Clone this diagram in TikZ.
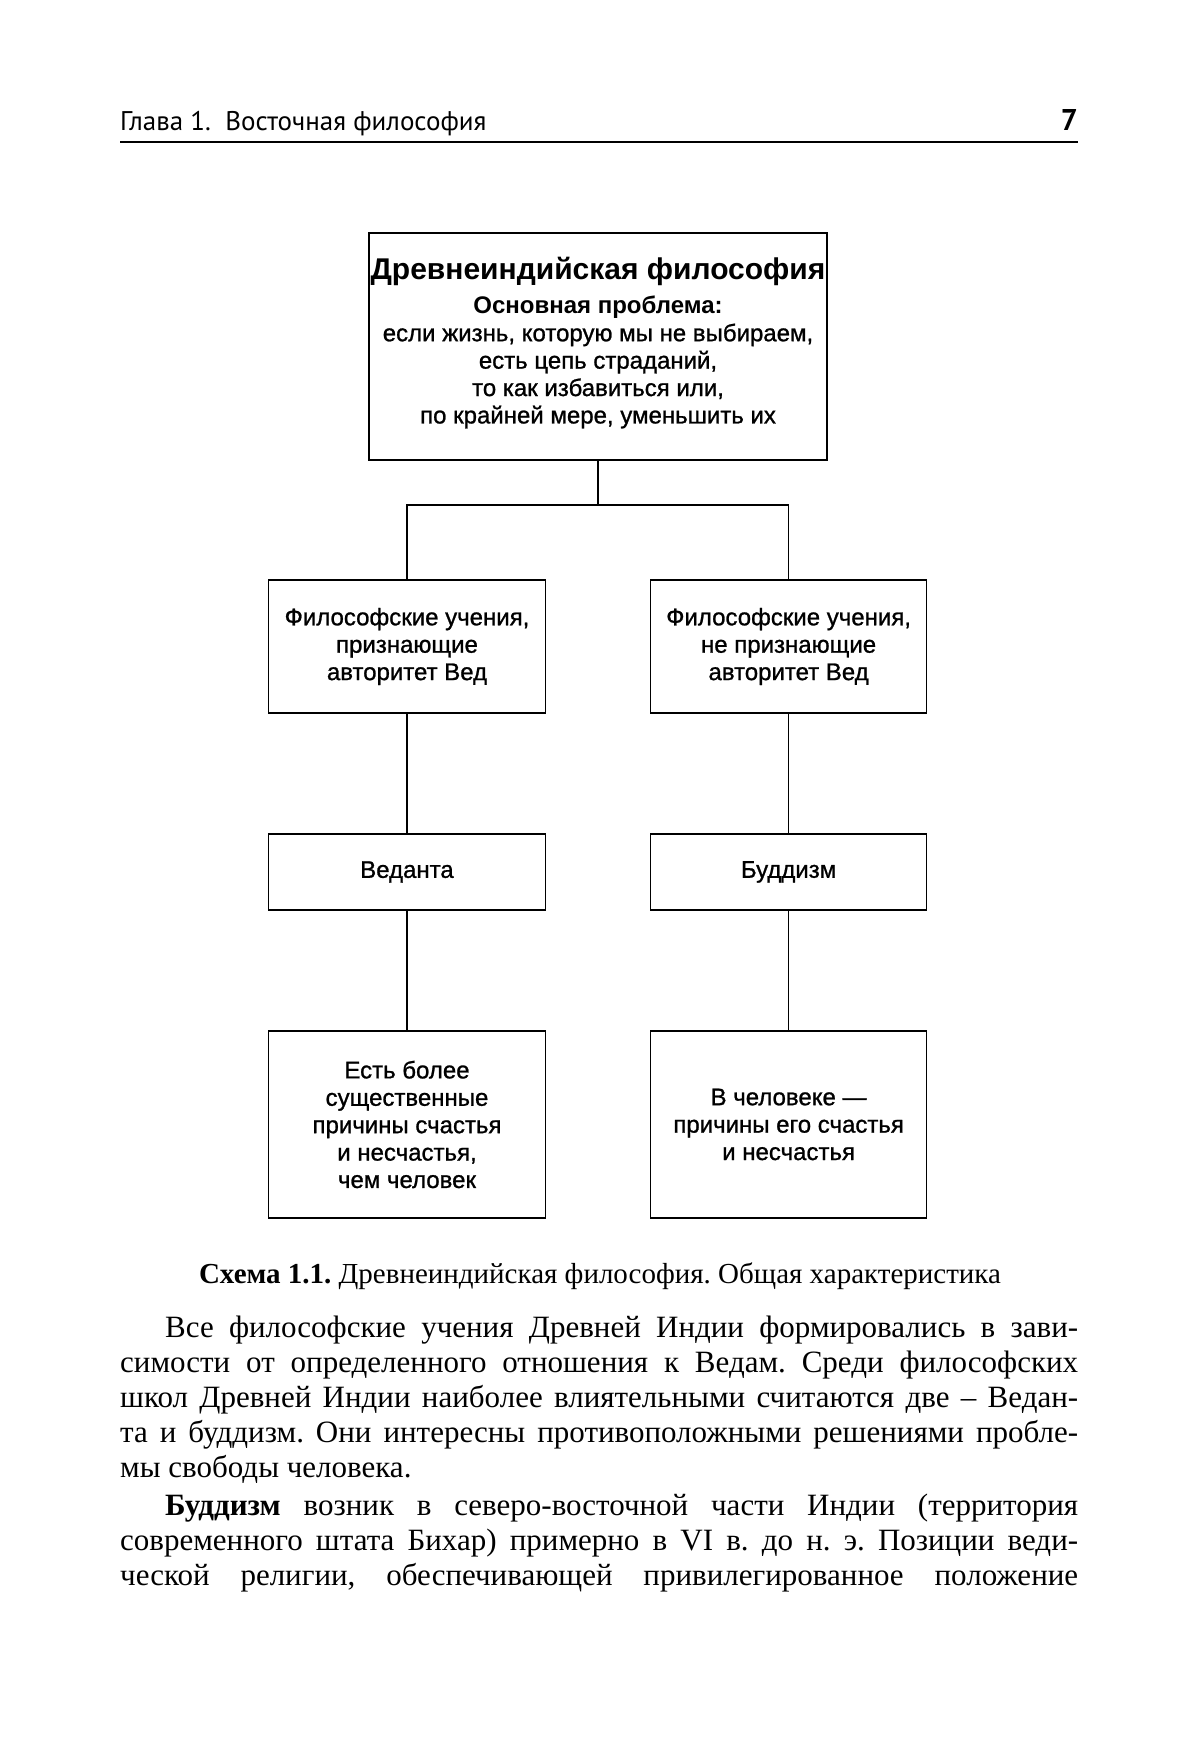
\documentclass[tikz,border=0pt]{standalone}
\usepackage{fontspec}
\setmainfont{Liberation Serif}
\newfontfamily\schemefont[UprightFeatures={FakeBold=1.0}]{Liberation Sans}
\newfontfamily\headfont{PT Sans}
\usetikzlibrary{positioning}
\frenchspacing

\begin{document}
\begin{tikzpicture}[x=1pt, y=1pt,
    box/.style={draw, line width=1.2pt, inner sep=0pt, align=center,
      minimum width=276.5pt,
      font=\schemefont\fontsize{24}{27.4}\selectfont},
    link/.style={line width=1.2pt},
    bodyline/.style={anchor=base west, inner sep=0pt,
      font=\fontsize{31}{35}\selectfont}]

  % page area, margins included
  \fill[white] (0,0) rectangle (1200,1756);
  \useasboundingbox (0,0) rectangle (1200,1756);

  % -------------------------------------------------------
  % Running head
  % -------------------------------------------------------
  \node[anchor=base west, inner sep=0pt, font=\headfont\fontsize{27}{31}\selectfont]
    (head) at (120,1625) {Глава 1.\ \ Восточная философия};
  \node[anchor=base east, inner sep=0pt, font=\headfont\bfseries\fontsize{30}{34}\selectfont]
    (pageno) at (1078,1625) {7};
  \draw[line width=2.5pt] (120,1614) -- (1078,1614);

  % -------------------------------------------------------
  % Scheme 1.1
  % -------------------------------------------------------
  % Root box: the main problem
  \node[box, minimum width=458pt, minimum height=227pt] (root) at (598,1409.5)
    {{\bfseries\fontsize{30}{34}\selectfont Древнеиндийская философия}\\[7pt]
     \textbf{Основная проблема:}\\
     если жизнь, которую мы не выбираем,\\
     есть цепь страданий,\\
     то как избавиться или,\\
     по крайней мере, уменьшить их\\[-15pt]};

  % Second row: attitude to the Vedas
  \node[box, minimum height=133pt] (vedic) at (407,1109.5)
    {Философские учения,\\ признающие\\ авторитет Вед};
  \node[box, minimum height=133pt] (nonvedic) at (788.6,1109.5)
    {Философские учения,\\ не признающие\\ авторитет Вед};

  % Third row: the two schools
  \node[box, minimum height=76pt] (vedanta) at (407,884) {Веданта};
  \node[box, minimum height=76pt] (buddhism) at (788.6,884) {Буддизм};

  % Fourth row: causes of happiness
  \node[box, minimum height=187pt] (vedantaview) at (407,631.5)
    {Есть более\\ существенные\\ причины счастья\\ и несчастья,\\ чем человек};
  \node[box, minimum height=187pt] (buddhismview) at (788.6,631.5)
    {В человеке —\\ причины его счастья\\ и несчастья};

  % Connectors
  \coordinate (split) at (598,1251);
  \draw[link] (root.south) -- (split);
  \draw[link] (vedic.north) |- (split) -| (nonvedic.north);
  \draw[link] (vedic.south) -- (vedanta.north);
  \draw[link] (nonvedic.south) -- (buddhism.north);
  \draw[link] (vedanta.south) -- (vedantaview.north);
  \draw[link] (buddhism.south) -- (buddhismview.north);

  % Caption
  \node[anchor=base, inner sep=0pt, font=\fontsize{29}{33}\selectfont]
    (caption) at (600,472)
    {\textbf{Схема 1.1.} Древнеиндийская философия. Общая характеристика};

  % -------------------------------------------------------
  % Body text, line by line as printed
  % -------------------------------------------------------
  \node[bodyline] (l1) at (165,418)
    {\makebox[913pt][s]{Все философские учения Древней Индии формировались в зави-}};
  \node[bodyline] (l2) at (120,383)
    {\makebox[958pt][s]{симости от определенного отношения к Ведам. Среди философских}};
  \node[bodyline] (l3) at (120,348)
    {\makebox[958pt][s]{школ Древней Индии наиболее влиятельными считаются две – Ведан-}};
  \node[bodyline] (l4) at (120,313)
    {\makebox[958pt][s]{та и буддизм. Они интересны противоположными решениями пробле-}};
  \node[bodyline] (l5) at (120,278) {мы свободы человека.};
  \node[bodyline] (l6) at (165,240)
    {\makebox[913pt][s]{\textbf{Буддизм} возник в северо-восточной части Индии (территория}};
  \node[bodyline] (l7) at (120,205)
    {\makebox[958pt][s]{современного штата Бихар) примерно в VI в. до н. э. Позиции веди-}};
  \node[bodyline] (l8) at (120,170)
    {\makebox[958pt][s]{ческой религии, обеспечивающей привилегированное положение}};

\end{tikzpicture}
\end{document}
